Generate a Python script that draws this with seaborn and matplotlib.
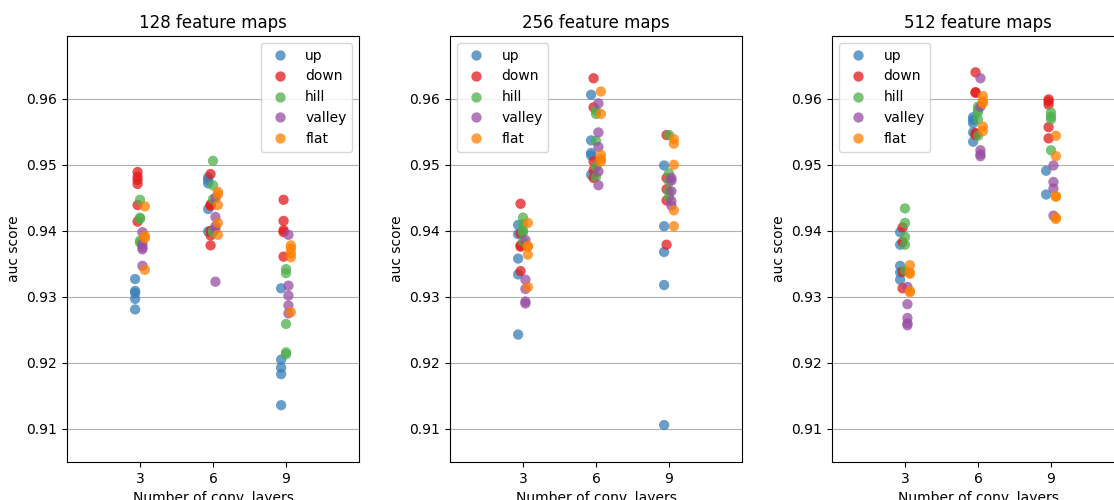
import numpy as np
import pandas as pd
import matplotlib
matplotlib.use('Agg')
import matplotlib.pyplot as plt
import seaborn as sns

# ── DATA ──────────────────────────────────────────────────────────────
patterns = ['up', 'down', 'hill', 'valley', 'flat']
n_layers = [3, 6, 9]
n_maps   = [128, 256, 512]

# auc per pattern, one list per number of conv. layers (3, 6, 9)
auc_128 = {
    'up':     [[0.9327, 0.9309, 0.9306, 0.9297, 0.9281],
               [0.9481, 0.9477, 0.9472, 0.9433, 0.9399],
               [0.9313, 0.9205, 0.9193, 0.9183, 0.9136]],
    'down':   [[0.9489, 0.9482, 0.9477, 0.9471, 0.9439, 0.9414],
               [0.9486, 0.9440, 0.9438, 0.9400, 0.9393, 0.9378],
               [0.9447, 0.9415, 0.9401, 0.9398, 0.9361]],
    'hill':   [[0.9447, 0.9420, 0.9418, 0.9385, 0.9382],
               [0.9506, 0.9469, 0.9448, 0.9400, 0.9398],
               [0.9342, 0.9336, 0.9259, 0.9216, 0.9213]],
    'valley': [[0.9398, 0.9380, 0.9375, 0.9372, 0.9347],
               [0.9450, 0.9421, 0.9407, 0.9403, 0.9323],
               [0.9394, 0.9317, 0.9302, 0.9287, 0.9275]],
    'flat':   [[0.9437, 0.9392, 0.9389, 0.9341],
               [0.9459, 0.9455, 0.9439, 0.9412, 0.9394],
               [0.9378, 0.9373, 0.9366, 0.9360, 0.9277]],
}
auc_256 = {
    'up':     [[0.9409, 0.9395, 0.9358, 0.9334, 0.9243],
               [0.9606, 0.9537, 0.9518, 0.9514, 0.9485],
               [0.9499, 0.9407, 0.9368, 0.9318, 0.9106]],
    'down':   [[0.9441, 0.9396, 0.9378, 0.9376, 0.9339],
               [0.9631, 0.9587, 0.9505, 0.9492, 0.9480],
               [0.9545, 0.9480, 0.9463, 0.9446, 0.9379]],
    'hill':   [[0.9420, 0.9410, 0.9400, 0.9398, 0.9384],
               [0.9582, 0.9577, 0.9536, 0.9497, 0.9482],
               [0.9545, 0.9487, 0.9475, 0.9460, 0.9451]],
    'valley': [[0.9386, 0.9326, 0.9312, 0.9293, 0.9290],
               [0.9593, 0.9549, 0.9527, 0.9490, 0.9469],
               [0.9480, 0.9476, 0.9460, 0.9445, 0.9438]],
    'flat':   [[0.9412, 0.9377, 0.9376, 0.9364, 0.9315],
               [0.9611, 0.9577, 0.9515, 0.9509, 0.9505],
               [0.9539, 0.9532, 0.9500, 0.9431, 0.9407]],
}
auc_512 = {
    'up':     [[0.9398, 0.9379, 0.9347, 0.9337, 0.9326],
               [0.9572, 0.9568, 0.9563, 0.9549, 0.9535],
               [0.9491, 0.9455]],
    'down':   [[0.9405, 0.9383, 0.9338, 0.9313],
               [0.9640, 0.9610, 0.9609, 0.9548, 0.9545],
               [0.9599, 0.9596, 0.9591, 0.9557, 0.9540]],
    'hill':   [[0.9434, 0.9412, 0.9391, 0.9379, 0.9340],
               [0.9588, 0.9583, 0.9580, 0.9569, 0.9544],
               [0.9579, 0.9573, 0.9569, 0.9522]],
    'valley': [[0.9315, 0.9289, 0.9268, 0.9260, 0.9257],
               [0.9631, 0.9588, 0.9522, 0.9516, 0.9513],
               [0.9499, 0.9474, 0.9464, 0.9423]],
    'flat':   [[0.9348, 0.9337, 0.9335, 0.9309, 0.9307],
               [0.9604, 0.9596, 0.9593, 0.9558, 0.9551],
               [0.9544, 0.9513, 0.9452, 0.9452, 0.9420, 0.9418]],
}

# ── LONG TABLE ────────────────────────────────────────────────────────
rows = []
for maps, table in zip(n_maps, [auc_128, auc_256, auc_512]):
    for pat in patterns:
        for layers, vals in zip(n_layers, table[pat]):
            for v in vals:
                rows.append((maps, pat, layers, v))
df = pd.DataFrame(rows, columns=['maps', 'pattern', 'layers', 'auc'])

# small horizontal shift per pattern so the groups sit side by side
shift = dict(zip(patterns, np.linspace(-0.2, 0.2, len(patterns))))
df['x'] = df['layers'] + df['pattern'].map(shift)

palette = dict(zip(patterns, ['#377eb8', '#e41a1c', '#4daf4a', '#984ea3', '#ff7f00']))

# ── PLOT ──────────────────────────────────────────────────────────────
fig = plt.figure(figsize=(11.14, 5), dpi=100)
lefts = [67, 450, 832]
legend_loc = ['upper right', 'upper left', 'upper left']

for i, maps in enumerate(n_maps):
    ax = fig.add_axes([lefts[i] / 1114, 38 / 500, 292 / 1114, 426 / 500])
    sub = df[df['maps'] == maps]
    sns.scatterplot(data=sub, x='x', y='auc', hue='pattern',
                    hue_order=patterns, palette=palette,
                    s=55, alpha=0.75, linewidth=0, ax=ax)
    ax.set_xlim(0, 12)
    ax.set_ylim(0.905, 0.9695)
    ax.set_xticks(n_layers)
    ax.set_yticks([0.91, 0.92, 0.93, 0.94, 0.95, 0.96])
    ax.grid(axis='y')
    ax.set_axisbelow(True)
    ax.set_title(f'{maps} feature maps')
    ax.set_xlabel('Number of conv. layers')
    ax.set_ylabel('auc score')
    ax.legend(loc=legend_loc[i])

plt.savefig('out.png', dpi=100)
